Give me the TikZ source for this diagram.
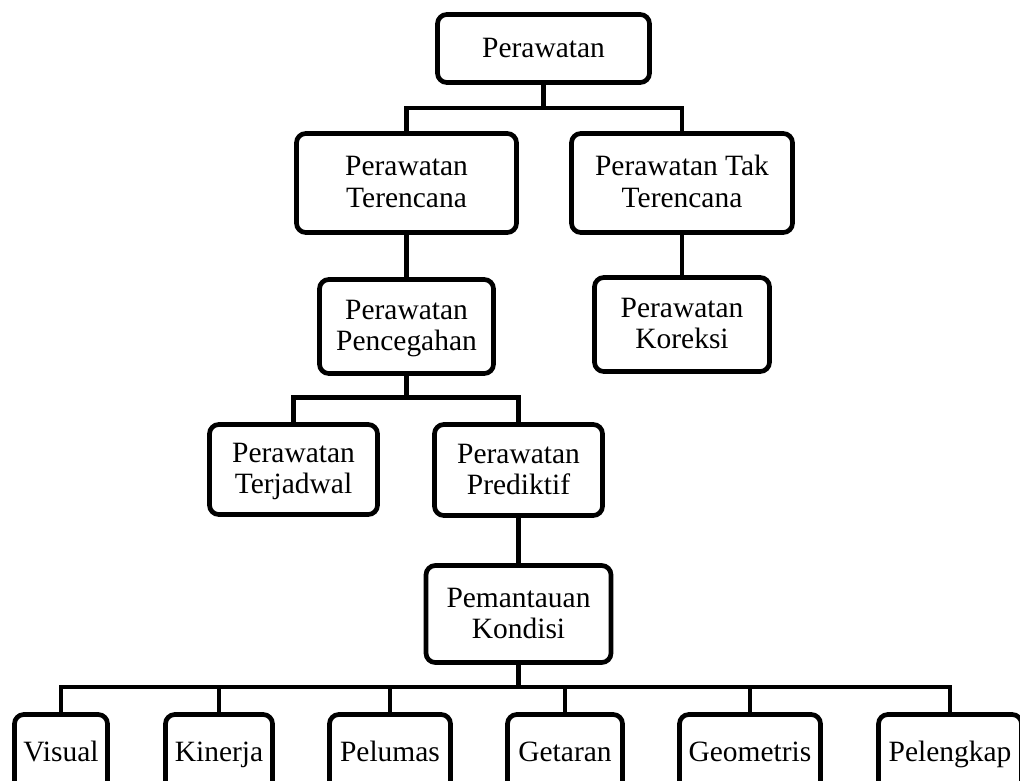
\documentclass[tikz,border=0pt]{standalone}
\usepackage{fontspec}
\setmainfont{Liberation Serif}
\newcommand\bxstrut{\rule[-5.1pt]{0pt}{23.1pt}}
\begin{document}
\begin{tikzpicture}[x=0.75pt,y=-0.75pt,
  box/.style={draw, line width=3.5pt, rounded corners=7pt, align=center, inner sep=0pt,
    font=\fontsize{22.1}{23.4}\selectfont},
  sz/.style n args={2}{minimum width=#1*0.75pt, minimum height=#2*0.75pt},
  conn/.style={line width=3.3pt}]
\clip (0,0) rectangle (1020,781);
\useasboundingbox (0,0) rectangle (1020,781);
% boxes
\node[box, sz={212}{68}] (root) at (543.5,48.5) {\bxstrut Perawatan};
\node[box, sz={220}{99}] (ter) at (406.5,183) {\bxstrut Perawatan\\\bxstrut Terencana};
\node[box, sz={221}{99}] (tak) at (682,183) {\bxstrut Perawatan Tak\\\bxstrut Terencana};
\node[box, sz={174}{94}] (pen) at (406.5,326.5) {\bxstrut Perawatan\\\bxstrut Pencegahan};
\node[box, sz={175}{94}] (kor) at (682,324.5) {\bxstrut Perawatan\\\bxstrut Koreksi};
\node[box, sz={168}{90}] (jad) at (293.5,469.5) {\bxstrut Perawatan\\\bxstrut Terjadwal};
\node[box, sz={168}{91}] (pre) at (518.5,470) {\bxstrut Perawatan\\\bxstrut Prediktif};
\node[box, sz={185}{97}] (pem) at (518.5,614) {\bxstrut Pemantauan\\\bxstrut Kondisi};
\node[box, sz={93}{77}] (vis) at (61,753) {\bxstrut Visual};
\node[box, sz={107}{77}] (kin) at (219,753) {\bxstrut Kinerja};
\node[box, sz={121}{77}] (pel) at (390,753) {\bxstrut Pelumas};
\node[box, sz={115}{77}] (get) at (565,753) {\bxstrut Getaran};
\node[box, sz={141}{77}] (geo) at (750,753) {\bxstrut Geometris};
\node[box, sz={143}{77}] (lkp) at (950,753) {\bxstrut Pelengkap};
% bus levels
\coordinate (b1) at (0,108);
\coordinate (b2) at (0,397.5);
\coordinate (b3) at (0,687);
% connectors
\draw[conn] (root.south) -- (root.south |- b1);
\draw[conn] (ter.north) |- (b1 -| tak.north) -- (tak.north);
\draw[conn] (ter.south) -- (ter.south |- pen.north);
\draw[conn] (tak.south) -- (tak.south |- kor.north);
\draw[conn] (pen.south) -- (pen.south |- b2);
\draw[conn] (jad.north) |- (b2 -| pre.north) -- (pre.north);
\draw[conn] (pre.south) -- (pre.south |- pem.north);
\draw[conn] (pem.south) -- (pem.south |- b3);
\draw[conn] (vis.north) |- (b3 -| lkp.north) -- (lkp.north);
\draw[conn] (kin.north) -- (kin.north |- b3);
\draw[conn] (pel.north) -- (pel.north |- b3);
\draw[conn] (get.north) -- (get.north |- b3);
\draw[conn] (geo.north) -- (geo.north |- b3);
\end{tikzpicture}
\end{document}
